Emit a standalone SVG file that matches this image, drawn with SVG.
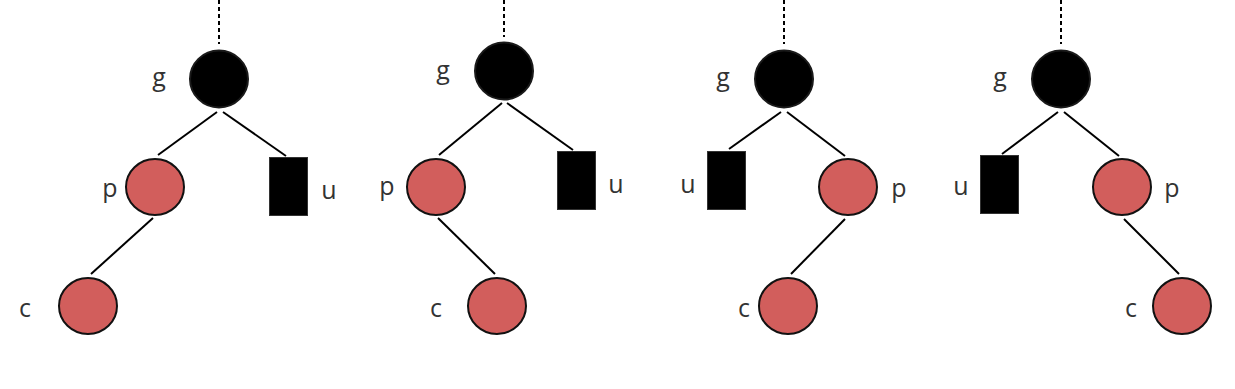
<svg xmlns="http://www.w3.org/2000/svg" width="1235" height="389" viewBox="0 0 1235 389">
<style>
.blk{fill:#000;stroke:#1a1a1a;stroke-width:2}
.red{fill:#d25e5c;stroke:#111;stroke-width:2}
.sq{fill:#000;stroke:#333;stroke-width:1}
.lbl{font-family:"Open Sans","DejaVu Sans",sans-serif;font-size:25px;fill:#333;text-anchor:middle}
.edge{stroke:#000;stroke-width:2;fill:none}
.dot{stroke:#000;stroke-width:2;stroke-dasharray:4 3;fill:none}
</style>
<rect width="1235" height="389" fill="#fff"/>
<g id="connectors">
  <line class="dot" x1="219" y1="0" x2="219" y2="44"/>
  <line class="edge" x1="217" y1="112" x2="158" y2="155"/>
  <line class="edge" x1="223" y1="112" x2="286" y2="156"/>
  <line class="edge" x1="153" y1="218" x2="91" y2="274"/>

  <line class="dot" x1="504" y1="0" x2="504" y2="37"/>
  <line class="edge" x1="502" y1="103" x2="439" y2="155"/>
  <line class="edge" x1="507" y1="103" x2="573" y2="150"/>
  <line class="edge" x1="438" y1="218" x2="495" y2="274"/>

  <line class="dot" x1="784" y1="0" x2="784" y2="44"/>
  <line class="edge" x1="781" y1="112" x2="729" y2="149"/>
  <line class="edge" x1="787" y1="112" x2="845" y2="156"/>
  <line class="edge" x1="845" y1="219" x2="791" y2="274"/>

  <line class="dot" x1="1061" y1="0" x2="1061" y2="44"/>
  <line class="edge" x1="1058" y1="112" x2="1002" y2="154"/>
  <line class="edge" x1="1064" y1="112" x2="1119" y2="156"/>
  <line class="edge" x1="1124" y1="219" x2="1179" y2="274"/>
</g>
<g id="t1-g"><ellipse class="blk" cx="219" cy="79" rx="29" ry="28.5"/><text class="lbl" x="159" y="86">g</text></g>
<g id="t1-p"><ellipse class="red" cx="155" cy="187" rx="29" ry="28"/><text class="lbl" x="110" y="197">p</text></g>
<g id="t1-u"><rect class="sq" x="269.5" y="157.5" width="38" height="58"/><text class="lbl" x="329" y="199">u</text></g>
<g id="t1-c"><ellipse class="red" cx="88" cy="306" rx="29" ry="28"/><text class="lbl" x="25" y="317">c</text></g>

<g id="t2-g"><ellipse class="blk" cx="504" cy="71" rx="29" ry="28.5"/><text class="lbl" x="443" y="79">g</text></g>
<g id="t2-p"><ellipse class="red" cx="436" cy="187" rx="29" ry="28"/><text class="lbl" x="387" y="195">p</text></g>
<g id="t2-u"><rect class="sq" x="557.5" y="151.5" width="38" height="58"/><text class="lbl" x="616" y="193">u</text></g>
<g id="t2-c"><ellipse class="red" cx="497" cy="306" rx="29" ry="28"/><text class="lbl" x="436" y="317">c</text></g>

<g id="t3-g"><ellipse class="blk" cx="784" cy="79" rx="29" ry="28.5"/><text class="lbl" x="723" y="86">g</text></g>
<g id="t3-u"><rect class="sq" x="707.5" y="151.5" width="38" height="58"/><text class="lbl" x="688" y="193">u</text></g>
<g id="t3-p"><ellipse class="red" cx="848" cy="187" rx="29" ry="28"/><text class="lbl" x="899" y="197">p</text></g>
<g id="t3-c"><ellipse class="red" cx="788" cy="306" rx="29" ry="28"/><text class="lbl" x="744" y="317">c</text></g>

<g id="t4-g"><ellipse class="blk" cx="1061" cy="79" rx="29" ry="28.5"/><text class="lbl" x="1000" y="86">g</text></g>
<g id="t4-u"><rect class="sq" x="980.5" y="155.5" width="38" height="58"/><text class="lbl" x="961" y="195">u</text></g>
<g id="t4-p"><ellipse class="red" cx="1122" cy="187" rx="29" ry="28"/><text class="lbl" x="1172" y="197">p</text></g>
<g id="t4-c"><ellipse class="red" cx="1182" cy="306" rx="29" ry="28"/><text class="lbl" x="1131" y="317">c</text></g>
</svg>
